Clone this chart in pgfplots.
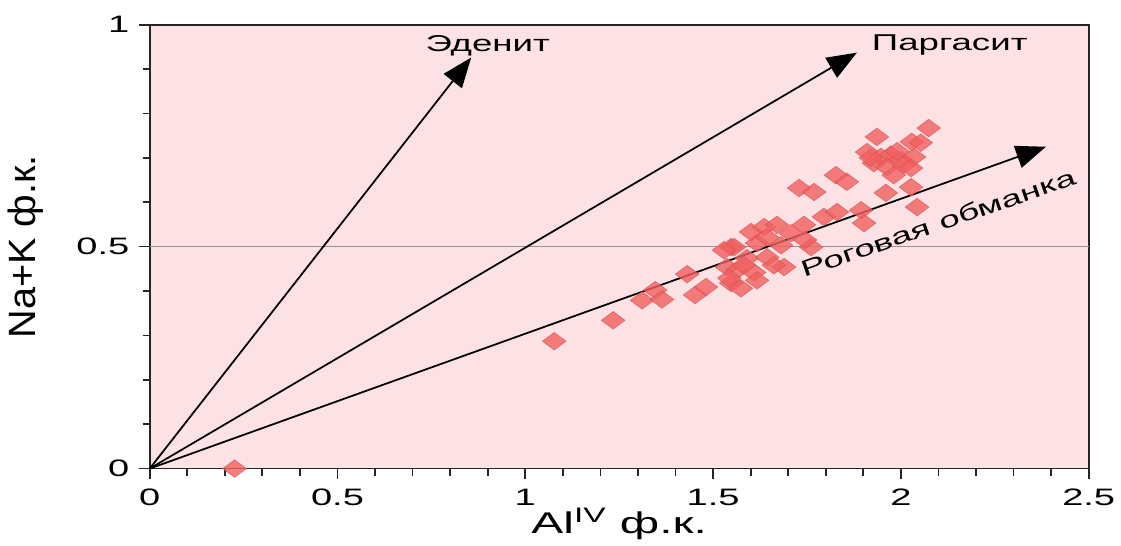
\documentclass[border=0pt]{standalone}
\usepackage{fontspec}
\setmainfont{Liberation Sans}[FakeStretch=1.6]
\newfontfamily\plainfont{Liberation Sans}
\usepackage{pgfplots}
\pgfplotsset{compat=1.18}
\usetikzlibrary{arrows.meta}

\definecolor{pinkbg}{RGB}{253,226,229}
\definecolor{markred}{RGB}{242,95,95}
\definecolor{refgray}{RGB}{150,150,150}

\begin{document}
\begin{tikzpicture}
\begin{axis}[
    scale only axis,
    width=18.74cm,
    height=8.86cm,
    xmin=0, xmax=2.5,
    ymin=0, ymax=1,
    xtick={0,0.5,1,1.5,2,2.5},
    ytick={0,0.5,1},
    minor x tick num=4,
    minor y tick num=4,
    tick align=outside,
    tick pos=left,
    major tick length=6pt,
    minor tick length=4pt,
    axis line style={line width=1pt, black!85},
    every tick/.style={line width=1pt, black!85},
    axis background/.style={fill=pinkbg},
    clip=false,
    /pgf/number format/assume math mode=true,
    tick label style={font=\fontsize{13.5}{15}\selectfont},
    xticklabel shift=2pt,
    yticklabel shift=2pt,
    xlabel={Al\textsuperscript{IV} ф.к.},
    xlabel style={font=\fontsize{17}{19}\selectfont, at={(axis description cs:0.5,0)}, anchor=base, yshift=-37pt},
    ylabel={\scalebox{1.25}[1.2]{Na+K ф.к.}},
    ylabel style={font=\plainfont\fontsize{18}{20}\selectfont, at={(axis description cs:0,0.5)}, anchor=south, inner sep=0pt, yshift=60pt},
]
% white space round the plot, as in the reference
\path (rel axis cs:0,1) -- ++(0,14pt);
\path (rel axis cs:0,0.5) -- ++(-85pt,0);

% reference line at 0.5
\addplot[refgray, line width=0.7pt] coordinates {(0,0.5) (2.5,0.5)};

% data
\addplot[only marks, mark=diamond*, mark size=5pt,
    mark options={xscale=1.8, fill=markred, draw=markred!85!black, fill opacity=0.8, draw opacity=0.6, line width=0.4pt}]
coordinates {
(0.226,0.000)
(1.077,0.287) (1.234,0.334) (1.311,0.379) (1.346,0.402) (1.364,0.381)
(1.431,0.438) (1.452,0.391) (1.481,0.409) (1.548,0.499) (1.537,0.454)
(1.548,0.418) (1.574,0.406) (1.564,0.447) (1.609,0.442) (1.590,0.474)
(1.556,0.499) (1.617,0.508) (1.601,0.533) (1.636,0.544) (1.670,0.549)
(1.707,0.530) (1.742,0.549) (1.681,0.503) (1.644,0.476) (1.689,0.454)
(1.617,0.424) (1.662,0.458) (1.761,0.499) (1.795,0.567) (1.830,0.578)
(1.894,0.582) (1.902,0.553) (1.729,0.632) (1.769,0.623) (1.827,0.661)
(1.856,0.646) (1.960,0.621) (2.027,0.634) (2.043,0.589) (1.910,0.713)
(1.936,0.747) (1.947,0.702) (1.973,0.707) (2.000,0.695) (2.035,0.702)
(2.029,0.736) (2.053,0.734) (2.074,0.767) (1.928,0.688) (1.963,0.679)
(2.008,0.684) (2.027,0.677) (1.981,0.661) (1.745,0.515) (1.529,0.492)
(1.644,0.521) (1.582,0.458) (1.543,0.429) (1.920,0.700) (1.990,0.715)
};

% arrows
\addplot[black, line width=1pt, -{Triangle[length=17pt,width=13pt]}] coordinates {(0,0) (0.856,0.926)};
\addplot[black, line width=1pt, -{Triangle[length=17pt,width=13pt]}] coordinates {(0,0) (1.883,0.937)};
\addplot[black, line width=1pt, -{Triangle[length=17pt,width=13pt]}] coordinates {(0,0) (2.386,0.725)};

\node[font=\fontsize{13}{15}\selectfont] at (axis cs:0.90,0.952) {Эденит};
\node[font=\fontsize{13}{15}\selectfont] at (axis cs:2.13,0.955) {Паргасит};
\node[font=\fontsize{13}{15}\selectfont, rotate=19] at (axis cs:2.10,0.553) {Роговая обманка};
\end{axis}
\end{tikzpicture}
\end{document}
